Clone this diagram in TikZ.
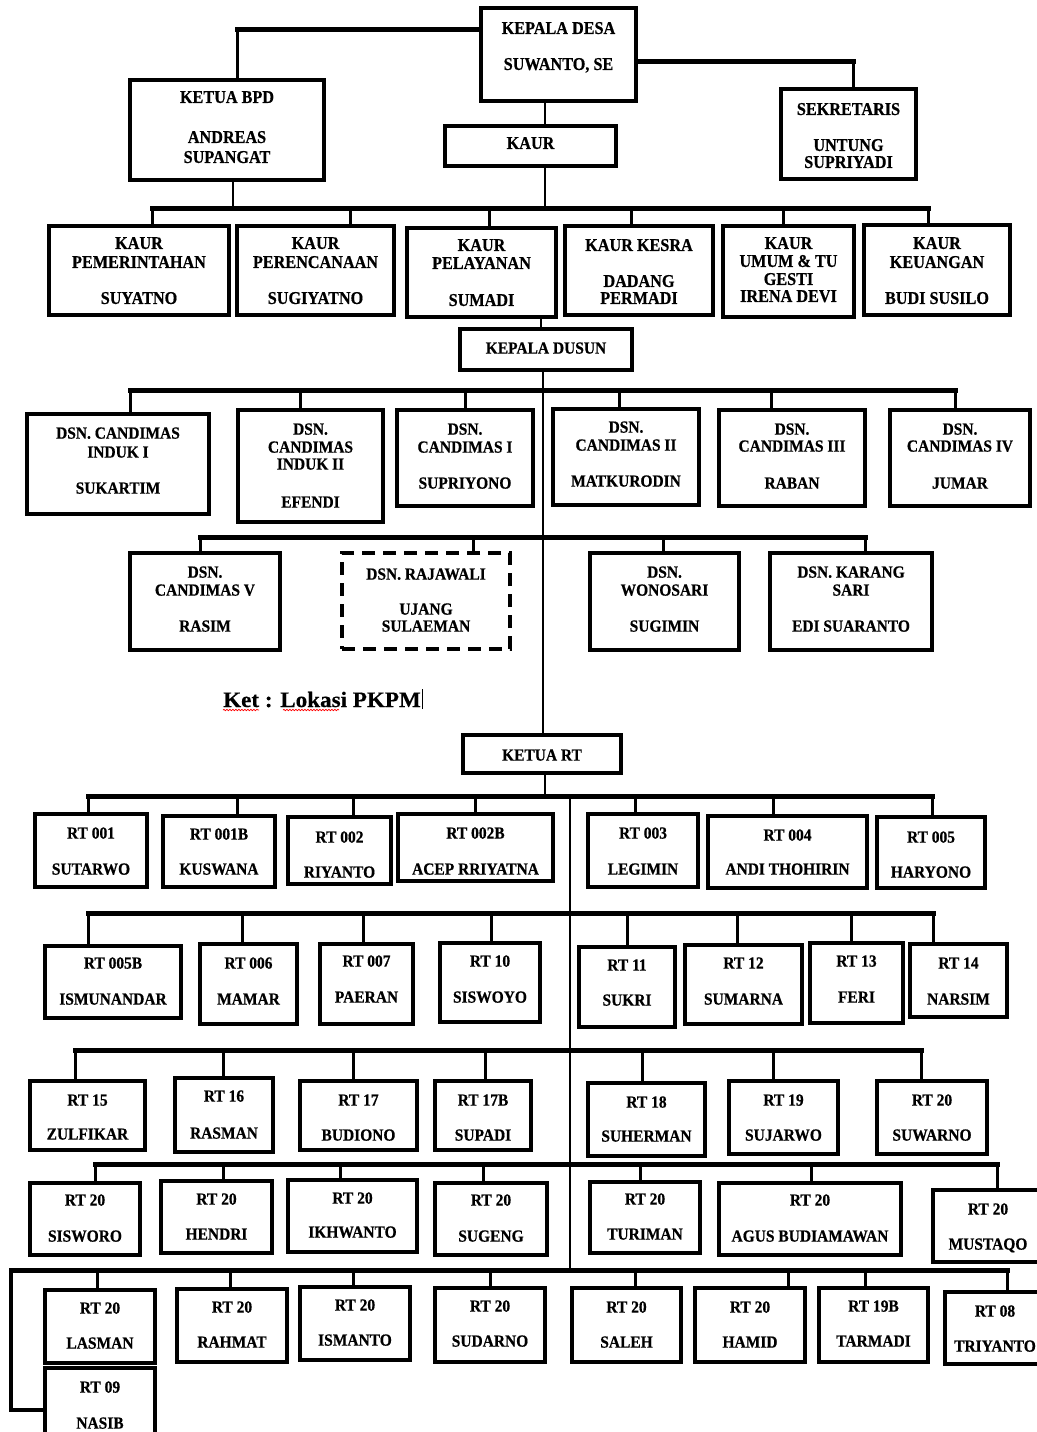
\documentclass[tikz,border=0pt]{standalone}
\usepackage{fontspec}
\newfontfamily\fa[FakeStretch=0.9,FakeBold=0.6]{Liberation Serif}
\newfontfamily\fb[FakeStretch=0.91,FakeBold=0.6]{Liberation Serif}
\newfontfamily\fk[FakeStretch=1.05,FakeBold=0.4]{Liberation Serif}
\usetikzlibrary{decorations.pathmorphing}
\pgfdeclarelayer{bg}
\pgfdeclarelayer{paper}
\pgfsetlayers{paper,bg,main}
\newcommand\obox[7][]{%
  \pgfmathsetmacro\obw{#5-#3}\pgfmathsetmacro\obh{#6-#4}\pgfmathsetmacro\obc{(#3+#5)/2}%
  \node[box,#1,minimum width=\obw pt,minimum height=\obh pt,anchor=north west] (#2) at (#3,#4) {};%
  \foreach \yy/\tx [count=\nn] in {#7} {\node[lbl] (#2-\nn) at (\obc,\yy) {\tx};}%
}
\newcommand\drp[3]{\draw[drop] (#1.north -| #2,0) -- (#3 -| #2,0);}
\newcommand\busl[3]{\draw[bus] (#1 -| #2,0) -- (#1 -| #3,0);}
\begin{document}
\begin{tikzpicture}[x=1pt,y=-1pt,
  box/.style={draw,line width=3.5pt,inner sep=0pt,outer sep=0pt,fill=white},
  dashbox/.style={dash pattern=on 13pt off 8pt},
  lbl/.style={font={\fa\bfseries\fontsize{18pt}{20pt}\selectfont},inner sep=0pt,text height=11.9pt,text depth=0pt},
  bus/.style={line width=5pt,line cap=rect},
  drop/.style={line width=3pt},
  spine/.style={line width=2.5pt},
  wavy/.style={red,line width=0.7pt,decorate,decoration={snake,amplitude=0.7pt,segment length=3pt}}]
\begin{pgfonlayer}{paper}
\fill[white] (0,0) rectangle (1036,1432);
\end{pgfonlayer}
\useasboundingbox (0,0) rectangle (1036,1432);

% ---------- top ----------
\obox{kd}{481}{8}{636}{101}{28/KEPALA DESA, 64/{SUWANTO, SE}}
\obox{bpd}{130}{80}{324}{180}{97/KETUA BPD, 137/ANDREAS, 157/SUPANGAT}
\obox{sek}{781}{89}{916}{179}{109/SEKRETARIS, 145/UNTUNG, 162/SUPRIYADI}
\obox{kaur}{445}{126}{616}{166}{143/KAUR}
\obox{pem}{49}{226}{229}{315}{243/KAUR, 262/PEMERINTAHAN, 298/SUYATNO}
\obox{per}{237}{226}{394}{315}{243/KAUR, 262/PERENCANAAN, 298/SUGIYATNO}
\obox{pel}{407}{228}{556}{317}{245/KAUR, 263/PELAYANAN, 300/SUMADI}
\obox{kes}{565}{226}{713}{315}{245/KAUR KESRA, 281/DADANG, 298/PERMADI}
\obox{umu}{723}{226}{854}{317}{243/KAUR, 261/UMUM \& TU, 279/GESTI, 296/IRENA DEVI}
\obox{keu}{864}{225}{1010}{315}{243/KAUR, 262/KEUANGAN, 298/BUDI SUSILO}

% ---------- dusun ----------
\tikzset{lbl/.style={font={\fb\bfseries\fontsize{17pt}{19pt}\selectfont},inner sep=0pt,text height=11.25pt,text depth=0pt}}
\obox{kdus}{460}{329}{632}{370}{348/KEPALA DUSUN}
\obox{ds1}{27}{414}{209}{514}{433/DSN. CANDIMAS, 452/INDUK I, 488/SUKARTIM}
\obox{ds2}{238}{410}{383}{522}{429/DSN., 447/CANDIMAS, 464/INDUK II, 502/EFENDI}
\obox{ds3}{397}{410}{533}{506}{429/DSN., 447/CANDIMAS I, 483/SUPRIYONO}
\obox{ds4}{553}{409}{699}{505}{427/DSN., 445/CANDIMAS II, 481/MATKURODIN}
\obox{ds5}{719}{410}{865}{506}{429/DSN., 446/CANDIMAS III, 483/RABAN}
\obox{ds6}{890}{410}{1030}{506}{429/DSN., 446/CANDIMAS IV, 483/JUMAR}
\obox{ds7}{130}{553}{280}{650}{572/DSN., 590/CANDIMAS V, 626/RASIM}
\obox[dashbox]{raj}{342}{553}{510}{649}{574/DSN. RAJAWALI, 609/UJANG, 626/SULAEMAN}
\obox{won}{590}{553}{739}{650}{572/DSN., 590/WONOSARI, 626/SUGIMIN}
\obox{kar}{770}{553}{932}{650}{572/DSN. KARANG, 590/SARI, 626/EDI SUARANTO}

\node[font={\fk\bfseries\fontsize{22pt}{24pt}\selectfont},anchor=base west,inner sep=0pt] (ket) at (223,707) {Ket : Lokasi PKPM};
\draw[wavy] ([yshift=-3pt]ket.base west) -- ++(36,0);
\draw[wavy] ([xshift=60pt,yshift=-3pt]ket.base west) -- ++(56,0);
\draw[line width=0.8pt] ([xshift=1.5pt]ket.base east) ++(0,2) -- ++(0,-20);

% ---------- RT ----------
\obox{krt}{463}{735}{621}{773}{755/KETUA RT}
\obox{t1}{35}{814}{147}{887}{833/RT 001, 869/SUTARWO}
\obox{t2}{163}{816}{275}{887}{834/RT 001B, 869/KUSWANA}
\obox{t3}{288}{817}{391}{884}{837/RT 002, 872/RIYANTO}
\obox{t4}{398}{814}{553}{881}{833/RT 002B, 869/ACEP RRIYATNA}
\obox{t5}{588}{814}{698}{887}{833/RT 003, 869/LEGIMIN}
\obox{t6}{708}{816}{867}{888}{835/RT 004, 869/ANDI THOHIRIN}
\obox{t7}{877}{817}{985}{888}{837/RT 005, 872/HARYONO}

\obox{u1}{45}{946}{181}{1018}{963/RT 005B, 999/ISMUNANDAR}
\obox{u2}{200}{944}{297}{1024}{963/RT 006, 999/MAMAR}
\obox{u3}{320}{944}{413}{1024}{961/RT 007, 997/PAERAN}
\obox{u4}{440}{943}{540}{1022}{961/RT 10, 997/SISWOYO}
\obox{u5}{579}{947}{675}{1027}{965/RT 11, 1000/SUKRI}
\obox{u6}{685}{945}{802}{1024}{963/RT 12, 999/SUMARNA}
\obox{u7}{810}{943}{903}{1023}{961/RT 13, 997/FERI}
\obox{u8}{910}{944}{1007}{1017}{963/RT 14, 999/NARSIM}

\obox{v1}{30}{1081}{145}{1150}{1100/RT 15, 1134/ZULFIKAR}
\obox{v2}{175}{1078}{273}{1152}{1096/RT 16, 1133/RASMAN}
\obox{v3}{300}{1081}{417}{1150}{1100/RT 17, 1135/BUDIONO}
\obox{v4}{435}{1081}{531}{1150}{1100/RT 17B, 1135/SUPADI}
\obox{v5}{588}{1083}{705}{1156}{1102/RT 18, 1136/SUHERMAN}
\obox{v6}{729}{1081}{838}{1154}{1100/RT 19, 1135/SUJARWO}
\obox{v7}{877}{1081}{987}{1154}{1100/RT 20, 1135/SUWARNO}

\obox{w1}{30}{1183}{140}{1255}{1200/RT 20, 1236/SISWORO}
\obox{w2}{161}{1181}{272}{1253}{1199/RT 20, 1234/HENDRI}
\obox{w3}{288}{1180}{417}{1252}{1198/RT 20, 1232/IKHWANTO}
\obox{w4}{435}{1183}{547}{1255}{1200/RT 20, 1236/SUGENG}
\obox{w5}{590}{1182}{700}{1253}{1199/RT 20, 1234/TURIMAN}
\obox{w6}{719}{1183}{901}{1255}{1200/RT 20, 1236/AGUS BUDIAMAWAN}
\obox{w7}{933}{1190}{1043}{1262}{1209/RT 20, 1244/MUSTAQO}

\obox{z1}{45}{1290}{155}{1363}{1308/RT 20, 1343/LASMAN}
\obox{z2}{177}{1289}{287}{1362}{1307/RT 20, 1342/RAHMAT}
\obox{z3}{300}{1287}{410}{1360}{1305/RT 20, 1340/ISMANTO}
\obox{z4}{435}{1288}{545}{1362}{1306/RT 20, 1341/SUDARNO}
\obox{z5}{572}{1288}{681}{1362}{1307/RT 20, 1342/SALEH}
\obox{z6}{695}{1288}{805}{1362}{1307/RT 20, 1342/HAMID}
\obox{z7}{819}{1288}{928}{1362}{1306/RT 19B, 1341/TARMADI}
\obox{z8}{945}{1292}{1045}{1364}{1311/RT 08, 1346/TRIYANTO}
\obox{z9}{45}{1368}{155}{1445}{1387/RT 09, 1423/NASIB}

% ---------- connectors ----------
\coordinate (c1) at (237,29);
\coordinate (c2) at (853,61);
\coordinate (b1) at (0,208);
\coordinate (d1) at (0,390);
\coordinate (d2) at (0,537);
\coordinate (r1) at (0,796);
\coordinate (r2) at (0,913);
\coordinate (r3) at (0,1050);
\coordinate (r4) at (0,1164);
\coordinate (r5) at (0,1270);
\coordinate (c9) at (11,1410);
\begin{pgfonlayer}{bg}
\draw[bus] (kd.west |- c1) -- (c1);
\draw[drop] (c1) -- (bpd.north -| c1);
\draw[bus] (kd.east |- c2) -- (c2);
\draw[drop] (c2) -- (sek.north -| c2);
\draw[spine] (kd.south -| 545,0) -- (kaur.north -| 545,0);
\draw[spine] (kaur.south -| 545,0) -- (b1 -| 545,0);
\draw[spine] (bpd.south -| 233,0) -- (b1 -| 233,0);
\busl{b1}{152}{928}
\drp{pem}{152}{b1}\drp{per}{350}{b1}\drp{pel}{489}{b1}\drp{kes}{631}{b1}\drp{umu}{783}{b1}\drp{keu}{928}{b1}
\draw[spine] (pel.south -| 541,0) -- (kdus.north -| 541,0);
\draw[spine] (kdus.south -| 543,0) -- (krt.north -| 543,0);
\busl{d1}{130}{955}
\drp{ds1}{130}{d1}\drp{ds2}{300}{d1}\drp{ds3}{465}{d1}\drp{ds4}{619}{d1}\drp{ds5}{771}{d1}\drp{ds6}{955}{d1}
\busl{d2}{200}{865}
\drp{ds7}{200}{d2}\drp{raj}{473}{d2}\drp{won}{663}{d2}\drp{kar}{865}{d2}
\draw[spine] (krt.south -| 545,0) -- (r1 -| 545,0);
\draw[spine] (r1 -| 570,0) -- (r5 -| 570,0);
\busl{r1}{88}{932}
\drp{t1}{88}{r1}\drp{t2}{237}{r1}\drp{t3}{353}{r1}\drp{t4}{475}{r1}\drp{t5}{635}{r1}\drp{t6}{773}{r1}\drp{t7}{932}{r1}
\busl{r2}{88}{933}
\drp{u1}{88}{r2}\drp{u2}{242}{r2}\drp{u3}{363}{r2}\drp{u4}{491}{r2}\drp{u5}{627}{r2}\drp{u6}{737}{r2}\drp{u7}{851}{r2}\drp{u8}{933}{r2}
\busl{r3}{75}{921}
\drp{v1}{75}{r3}\drp{v2}{223}{r3}\drp{v3}{353}{r3}\drp{v4}{485}{r3}\drp{v5}{642}{r3}\drp{v6}{773}{r3}\drp{v7}{921}{r3}
\busl{r4}{95}{997}
\drp{w1}{95}{r4}\drp{w2}{223}{r4}\drp{w3}{340}{r4}\drp{w4}{483}{r4}\drp{w5}{640}{r4}\drp{w6}{811}{r4}\drp{w7}{997}{r4}
\busl{r5}{11}{1007}
\drp{z1}{97}{r5}\drp{z2}{230}{r5}\drp{z3}{353}{r5}\drp{z4}{490}{r5}\drp{z5}{635}{r5}\drp{z6}{788}{r5}\drp{z7}{865}{r5}\drp{z8}{1007}{r5}
\draw[line width=4pt] (r5 -| c9) -- (c9) -- (z9.west |- c9);
\end{pgfonlayer}
\end{tikzpicture}
\end{document}
